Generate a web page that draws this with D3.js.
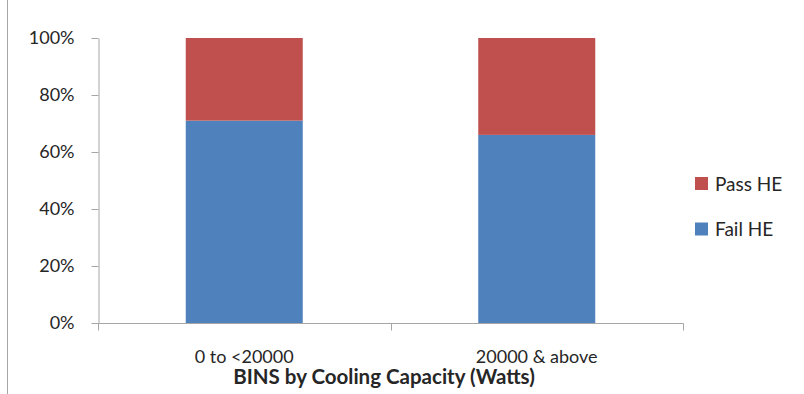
<!DOCTYPE html>
<html>
<head>
<meta charset="utf-8">
<script src="https://cdn.jsdelivr.net/npm/d3@7"></script>
<style>
  html, body { margin: 0; padding: 0; background: #fff; }
  svg { display: block; font-family: Lato, "Open Sans", sans-serif; }
</style>
</head>
<body>
<svg id="chart" width="804" height="394"></svg>
<script>
// Share of units by cooling-capacity bin
const categories = ["0 to <20000", "20000 & above"];
const failHE = [0.71, 0.66];
const passHE = [0.29, 0.34];
const seriesNames = ["Fail HE", "Pass HE"];
const yTicks = [0, 0.2, 0.4, 0.6, 0.8, 1.0];
const xTitle = "BINS by Cooling Capacity (Watts)";

const colors = { "Fail HE": "#4F81BD", "Pass HE": "#C0504D" };
const axisColor = "#a6a6a6";
const textColor = "#262626";

const svg = d3.select("#chart");
const plotLeft = 98, plotRight = 683, plotTop = 38, plotBottom = 323;

// outer frame line on the left edge
svg.append("line")
  .attr("x1", 7.5).attr("x2", 7.5).attr("y1", 0).attr("y2", 394)
  .attr("stroke", axisColor).attr("stroke-width", 1);

const x = d3.scaleBand().domain(categories).range([plotLeft, plotRight])
  .paddingInner(0.6).paddingOuter(0.3);
const y = d3.scaleLinear().domain([0, 1]).range([plotBottom, plotTop]);

const rows = categories.map((c, i) => ({ cat: c, "Fail HE": failHE[i], "Pass HE": passHE[i] }));
const stack = d3.stack().keys(seriesNames)(rows);

svg.append("g").selectAll("g").data(stack).join("g")
  .attr("fill", d => colors[d.key])
  .selectAll("rect").data(d => d).join("rect")
  .attr("x", d => x(d.data.cat))
  .attr("width", x.bandwidth())
  .attr("y", d => y(d[1]))
  .attr("height", d => y(d[0]) - y(d[1]));

// y axis
const yAxis = svg.append("g").attr("transform", `translate(${plotLeft + 0.5},0)`)
  .call(d3.axisLeft(y).tickValues(yTicks).tickFormat(d3.format(".0%"))
    .tickSizeInner(7).tickSizeOuter(0).tickPadding(17));
yAxis.select(".domain").attr("stroke", axisColor);
yAxis.selectAll(".tick line").attr("stroke", axisColor);
yAxis.selectAll(".tick text").attr("fill", textColor).attr("font-size", 18)
  .attr("font-family", "Lato, 'Open Sans', sans-serif");

// x axis with ticks at the category boundaries
const xg = svg.append("g").attr("transform", `translate(0,${plotBottom + 0.5})`);
xg.append("line").attr("x1", plotLeft).attr("x2", plotRight + 0.5).attr("stroke", axisColor);
const edges = [plotLeft, (plotLeft + plotRight) / 2, plotRight];
xg.selectAll("line.tk").data(edges).join("line").attr("class", "tk")
  .attr("x1", d => Math.round(d) + 0.5).attr("x2", d => Math.round(d) + 0.5)
  .attr("y1", 0).attr("y2", 7).attr("stroke", axisColor);
xg.selectAll("text").data(categories).join("text")
  .attr("x", d => x(d) + x.bandwidth() / 2)
  .attr("y", 39)
  .attr("text-anchor", "middle")
  .attr("fill", textColor).attr("font-size", 18)
  .text(d => d);

svg.append("text")
  .attr("x", 384).attr("y", 384)
  .attr("text-anchor", "middle")
  .attr("fill", textColor).attr("font-size", 20.5).attr("font-weight", "bold")
  .text(xTitle);

// legend
const legendItems = ["Pass HE", "Fail HE"];
const lg = svg.append("g").attr("transform", "translate(695,177)");
legendItems.forEach((k, i) => {
  const g = lg.append("g").attr("transform", `translate(0,${i * 45.5})`);
  g.append("rect").attr("width", 13).attr("height", 13).attr("fill", colors[k]);
  g.append("text").attr("x", 20).attr("y", 13.5).attr("font-size", 19)
    .attr("fill", textColor).text(k);
});
</script>
</body>
</html>
